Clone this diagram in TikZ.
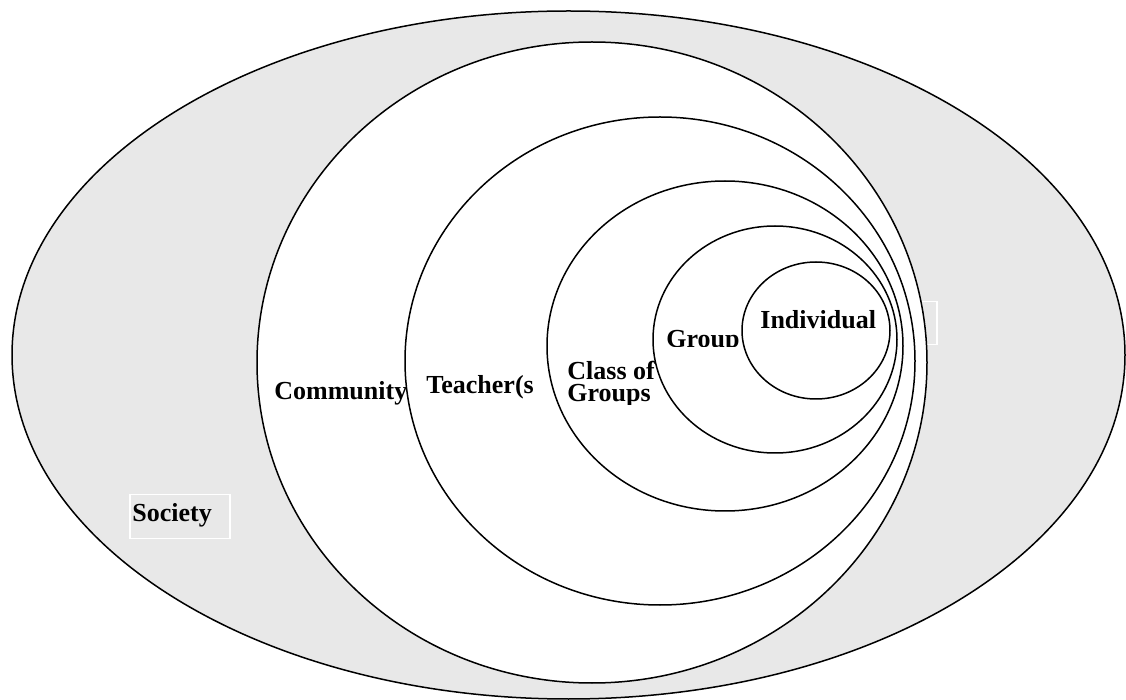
\documentclass[tikz,border=0pt]{standalone}
\usepackage{fontspec}
\setmainfont{Liberation Serif}
\definecolor{socgray}{HTML}{E8E8E8}
\begin{document}
\begin{tikzpicture}[x=0.5pt,y=-0.5pt,
  ring/.style={draw=black,line width=0.75pt},
  lbl/.style={anchor=base west,inner sep=0pt,font=\fontsize{13pt}{10.75pt}\selectfont\bfseries},
  wbox/.style={draw=white,line width=0.75pt,anchor=north west,inner sep=0pt}]
\useasboundingbox (0,0) rectangle (1126,700);
% Society (grey) and Community (white) fills
\fill[socgray] (568.5,355) ellipse [x radius=556.5,y radius=344];
\draw[ring] (568.5,355) ellipse [x radius=556.5,y radius=344];
\fill[white] (592,362.5) ellipse [x radius=335,y radius=320.5];
% white text boxes
\node[wbox,minimum width=50pt,minimum height=22pt] (socbox) at (129,494) {};
\node[wbox,minimum width=26.5pt,minimum height=21.5pt] (emptybox) at (883,301) {};
% rings
\draw[ring] (592,362.5) ellipse [x radius=335,y radius=320.5];
\draw[ring] (660,361) ellipse [x radius=255,y radius=244];
\draw[ring] (725,346) ellipse [x radius=178,y radius=165];
\draw[ring] (775,339.5) ellipse [x radius=122,y radius=113.5];
\draw[ring] (816,330.5) ellipse [x radius=74,y radius=68.5];
% labels
\node[lbl] (society) at (132,522) {Society};
\node[lbl] (community) at (274,400) {Community};
\node[lbl] (teacher) at (426,394) {Teacher(s};
\begin{scope}
\clip (560,350) rectangle (660,404.5);
\node[lbl,align=left] (classof) at (567,401.5) {Class of\\Groups};
\end{scope}
\begin{scope}
\clip (660,320) rectangle (745,347);
\node[lbl] (group) at (666,347.5) {Group};
\end{scope}
\node[lbl] (individual) at (760,329) {Individual};
\end{tikzpicture}
\end{document}
